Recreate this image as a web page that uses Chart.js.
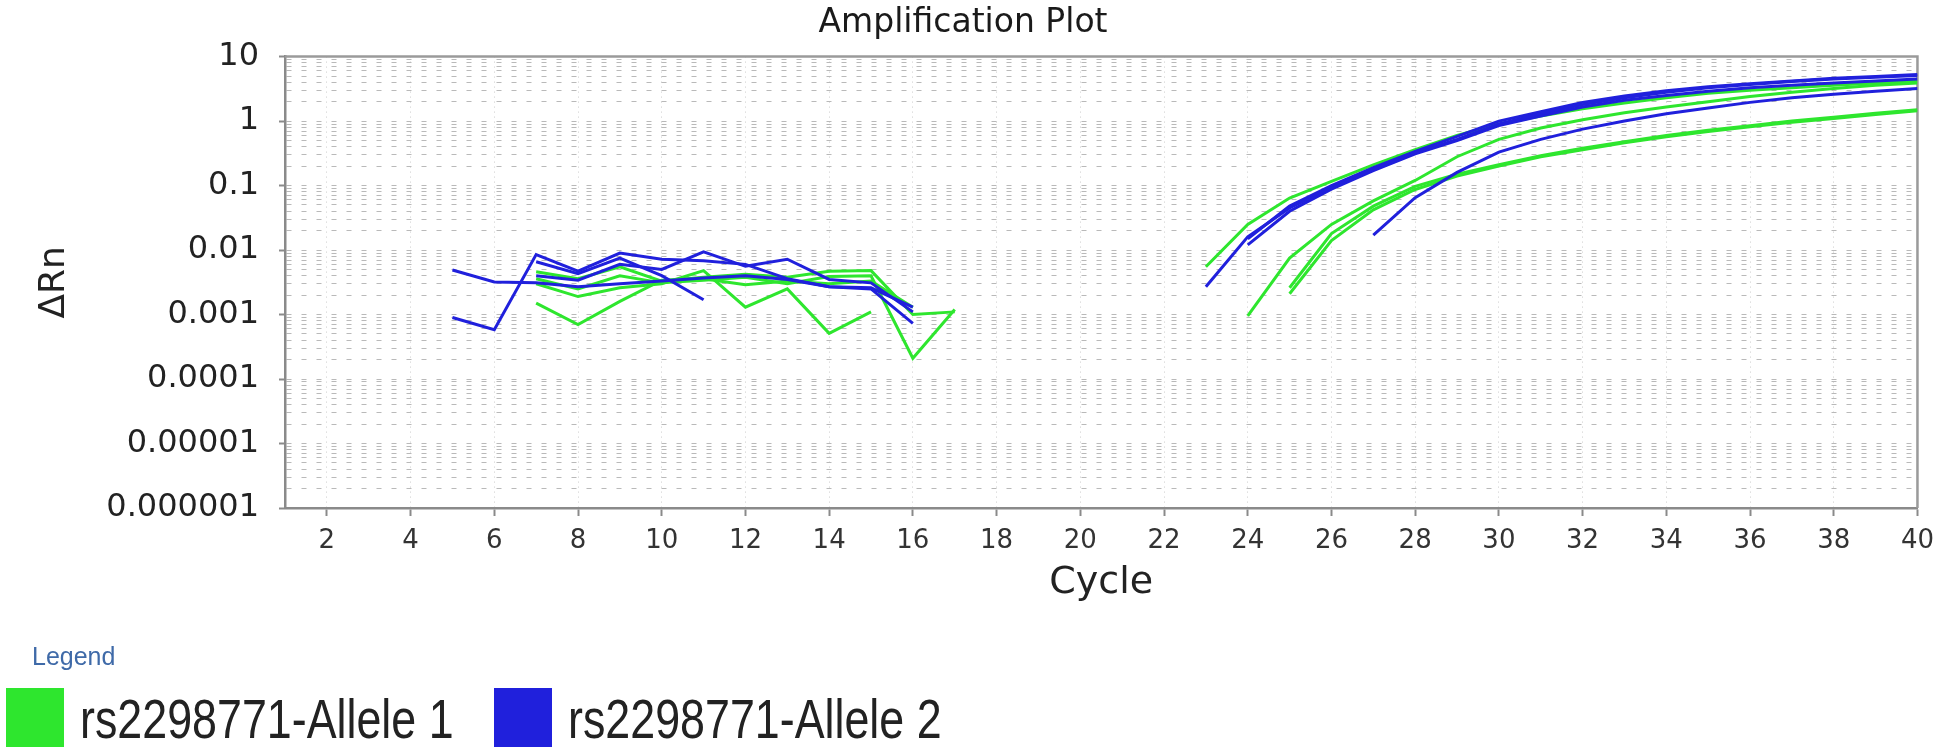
<!DOCTYPE html>
<html>
<head>
<meta charset="utf-8">
<script src="https://cdn.jsdelivr.net/npm/chart.js@4.4.1/dist/chart.umd.min.js"></script>
<style>
  html, body { margin: 0; padding: 0; background: #fff; overflow: hidden; }
  #wrap { position: relative; width: 1944px; height: 755px; }
  #plot { position: absolute; left: 0; top: 0; }
  .legend-title { position: absolute; left: 32px; top: 644px; font: 25px 'Liberation Sans', Arial, sans-serif; line-height: 1; color: #3f6aa8; }
  .legend-box { position: absolute; top: 688px; width: 58px; height: 59px; }
  .legend-text { position: absolute; top: 691px; font: 56px 'Liberation Sans', Arial, sans-serif; line-height: 1; color: #222;
                 transform: scaleX(0.8); transform-origin: left top; white-space: nowrap; }
</style>
</head>
<body>
<div id="wrap">
  <canvas id="plot" width="1944" height="755"></canvas>
  <div class="legend-title">Legend</div>
  <div class="legend-box" id="box1" style="left:6px"></div>
  <div class="legend-text" id="txt1" style="left:80px"></div>
  <div class="legend-box" id="box2" style="left:494px"></div>
  <div class="legend-text" id="txt2" style="left:568px"></div>
</div>
<script>
// amplification plot – two alleles, four wells each
const _ = null;

const cycles = [1, 2, 3, 4, 5, 6, 7, 8, 9, 10, 11, 12, 13, 14, 15, 16, 17, 18, 19, 20,
                21, 22, 23, 24, 25, 26, 27, 28, 29, 30, 31, 32, 33, 34, 35, 36, 37, 38, 39, 40];

const xTicks = [2, 4, 6, 8, 10, 12, 14, 16, 18, 20, 22, 24, 26, 28, 30, 32, 34, 36, 38, 40];
const yDecades = [0.000001, 0.00001, 0.0001, 0.001, 0.01, 0.1, 1, 10];
const yTickLabels = ['0.000001', '0.00001', '0.0001', '0.001', '0.01', '0.1', '1', '10'];

const seriesNames = ['rs2298771-Allele 1', 'rs2298771-Allele 2'];
const seriesColors = ['#2ee62e', '#2020dc'];

// Allele 1 (green) wells, ΔRn per cycle 1..40
const allele1Well1 = [_, _, _, _, _, _, .0015, .0007, .0016, .0034, .0036, .0029, .0033, .0030, .0033, .0013,
  _, _, _, _, _, _, .0055, .025, .064, .116, .21, .36, .6, .9, 1.2, 1.55, 1.9, 2.3, 2.7, 3.0, 3.3, 3.6, 3.9, 4.2];
const allele1Well2 = [_, _, _, _, _, _, .0030, .0019, .0026, .0030, .0048, .0013, .0025, .00051, .0011,
  _, _, _, _, _, _, _, _, .00095, .0075, .025, .058, .12, .28, .52, .78, 1.05, 1.35, 1.65, 2.0, 2.4, 2.8, 3.2, 3.6, 3.9];
const allele1Well3 = [_, _, _, _, _, _, .0046, .0036, .0055, .0033, .0038, .0042, .0038, .0047, .0048, .0010, .0011,
  _, _, _, _, _, _, _, .0026, .018, .048, .097, .15, .21, .29, .38, .48, .60, .72, .85, 1.0, 1.15, 1.32, 1.5];
const allele1Well4 = [_, _, _, _, _, _, .0036, .0025, .0040, .0031, .0034, .0038, .0030, .0039, .0040, .00021, .0012,
  _, _, _, _, _, _, _, .0021, .014, .042, .087, .14, .2, .28, .36, .46, .57, .69, .82, .96, 1.1, 1.27, 1.45];

// Allele 2 (blue) wells
const allele2Well1 = [_, _, _, _, .0049, .0032, .0031, .0027, .0030, .0033, .0037, .0040, .0035, .0027, .0026, .0013,
  _, _, _, _, _, _, .0027, .016, .045, .092, .176, .32, .52, .9, 1.3, 1.8, 2.3, 2.8, 3.3, 3.7, 4.1, 4.5, 4.8, 5.1];
const allele2Well2 = [_, _, _, _, .0009, .00058, .0085, .0047, .0090, .0072, .0068, .0060, .0036, .0027, .0025, .00073,
  _, _, _, _, _, _, _, .015, .048, .10, .19, .34, .58, 1.0, 1.4, 1.95, 2.45, 2.95, 3.4, 3.8, 4.2, 4.6, 4.9, 5.3];
const allele2Well3 = [_, _, _, _, _, _, .0066, .0043, .0075, .0040, .0017,
  _, _, _, _, _, _, _, _, _, _, _, _, .012, .04, .088, .17, .31, .5, .85, 1.2, 1.65, 2.1, 2.5, 2.9, 3.3, 3.6, 3.9, 4.2, 4.5];
const allele2Well4 = [_, _, _, _, _, _, .0040, .0034, .0060, .0050, .0094, .0056, .0072, .0035, .0031, .0011,
  _, _, _, _, _, _, _, _, _, _, .017, .065, .16, .33, .52, .75, 1.0, 1.3, 1.6, 1.95, 2.3, 2.6, 2.9, 3.2];

const allele1Wells = [allele1Well1, allele1Well2, allele1Well3, allele1Well4];
const allele2Wells = [allele2Well1, allele2Well2, allele2Well3, allele2Well4];

function isDecade(v) {
    const l = Math.log10(v);
    return Math.abs(l - Math.round(l)) < 1e-9;
}

function makeDataset(values, colorIdx) {
    return {
        label: seriesNames[colorIdx],
        data: cycles.map((c, i) => ({ x: c, y: values[i] })),
        borderColor: seriesColors[colorIdx],
        borderWidth: 3,
        pointRadius: 0,
        tension: 0,
        spanGaps: false
    };
}

// top and right edges of the plot frame
const framePlugin = {
    id: 'frame',
    beforeDatasetsDraw(chart) {
        const { ctx, chartArea: a } = chart;
        ctx.save();
        ctx.strokeStyle = '#9a9a9a';
        ctx.lineWidth = 2.5;
        ctx.beginPath();
        ctx.moveTo(a.left, a.top);
        ctx.lineTo(a.right, a.top);
        ctx.lineTo(a.right, a.bottom);
        ctx.stroke();
        ctx.restore();
    }
};

const FONT = 'DejaVu Sans';

document.getElementById('box1').style.background = seriesColors[0];
document.getElementById('box2').style.background = seriesColors[1];
document.getElementById('txt1').textContent = seriesNames[0];
document.getElementById('txt2').textContent = seriesNames[1];

new Chart(document.getElementById('plot').getContext('2d'), {
    type: 'line',
    data: {
        datasets: [
            ...allele2Wells.map(w => makeDataset(w, 1)),
            ...allele1Wells.map(w => makeDataset(w, 0))
        ]
    },
    options: {
        responsive: false,
        animation: false,
        layout: { padding: { left: 0, right: 18, top: 0, bottom: 0 } },
        plugins: {
            legend: { display: false },
            tooltip: { enabled: false },
            title: {
                display: true,
                text: 'Amplification Plot',
                color: '#1a1a1a',
                font: { family: FONT, size: 33, weight: 'normal' },
                padding: { top: 4, bottom: 13 }
            }
        },
        scales: {
            x: {
                type: 'linear',
                min: 1,
                max: 40,
                afterBuildTicks: s => { s.ticks = xTicks.map(v => ({ value: v })); },
                afterFit: s => { s.height = 247; },
                ticks: {
                    autoSkip: false,
                    maxRotation: 0,
                    padding: 10,
                    color: '#333',
                    font: { family: FONT, size: 26 }
                },
                grid: { color: '#cccccc', lineWidth: 1, tickLength: 8, tickColor: '#8a8a8a', tickWidth: 2 },
                border: { color: '#8a8a8a', width: 2.5, dash: [1, 4] },
                title: {
                    display: true,
                    text: 'Cycle',
                    color: '#222',
                    font: { family: FONT, size: 38 },
                    padding: { top: 0, bottom: 149 }
                }
            },
            y: {
                type: 'logarithmic',
                min: 0.000001,
                max: 10,
                afterBuildTicks: s => {
                    const t = [];
                    yDecades.forEach((d, i) => {
                        if (i === yDecades.length - 1) { t.push({ value: d }); return; }
                        for (let m = 1; m <= 9; m++) t.push({ value: d * m });
                    });
                    s.ticks = t;
                },
                afterFit: s => { s.width = 285; },
                ticks: {
                    autoSkip: false,
                    padding: 20,
                    color: '#222',
                    font: { family: FONT, size: 32 },
                    callback: v => {
                        if (!isDecade(v)) return '';
                        const i = yDecades.findIndex(d => Math.abs(Math.log10(d) - Math.log10(v)) < 1e-9);
                        return yTickLabels[i];
                    }
                },
                grid: {
                    color: '#b9b9b9',
                    lineWidth: 1,
                    tickLength: 6,
                    tickWidth: 2,
                    tickColor: c => (c.tick && isDecade(c.tick.value)) ? '#8a8a8a' : 'rgba(0,0,0,0)'
                },
                border: { color: '#8a8a8a', width: 2.5, dash: [5, 10] },
                title: {
                    display: true,
                    text: 'ΔRn',
                    color: '#222',
                    font: { family: FONT, size: 36 },
                    padding: { top: 33, bottom: 0 }
                }
            }
        }
    },
    plugins: [framePlugin]
});
</script>
</body>
</html>
